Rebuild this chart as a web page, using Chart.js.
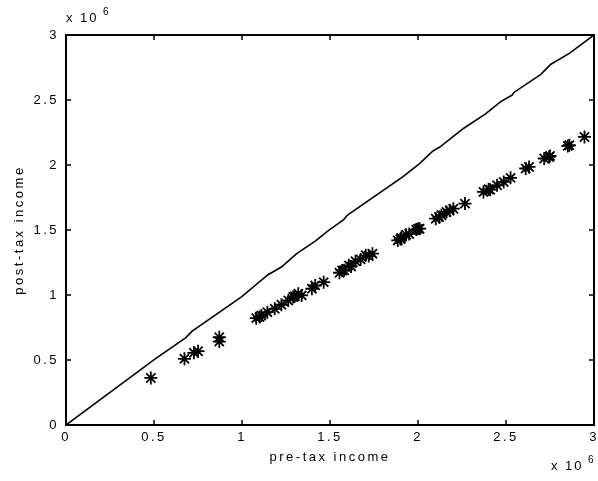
<!DOCTYPE html>
<html>
<head>
<meta charset="utf-8">
<script src="https://cdn.jsdelivr.net/npm/chart.js@4.4.0/dist/chart.umd.min.js"></script>
<style>
html,body{margin:0;padding:0;background:#fff;}
#wrap{width:598px;height:481px;position:relative;}
</style>
</head>
<body>
<div id="wrap"><canvas id="c" width="598" height="481"></canvas></div>
<script>
// Reference line (pre-tax vs pre-tax), values in units of 1e6
const lineX = [0, 0.501, 0.679, 0.717, 0.995, 1.148, 1.224, 1.311, 1.416, 1.492, 1.578, 1.598, 1.626, 1.913, 2.009, 2.085, 2.124, 2.258, 2.382, 2.468, 2.535, 2.545, 2.698, 2.755, 2.860, 3.0];
const lineY = [0, 0.503, 0.670, 0.722, 0.984, 1.156, 1.215, 1.318, 1.415, 1.497, 1.580, 1.613, 1.640, 1.908, 2.011, 2.108, 2.138, 2.281, 2.391, 2.486, 2.538, 2.558, 2.697, 2.775, 2.859, 3.0];
// Observations: pre-tax income vs post-tax income, units of 1e6
const preTax = [0.482, 0.673, 0.727, 0.750, 0.871, 0.871, 1.081, 1.100, 1.110, 1.144, 1.186, 1.224, 1.263, 1.291, 1.300, 1.320, 1.339, 1.397, 1.416, 1.464, 1.554, 1.569, 1.580, 1.607, 1.620, 1.645, 1.674, 1.703, 1.720, 1.741, 1.885, 1.900, 1.904, 1.932, 1.950, 1.990, 2.000, 2.009, 2.101, 2.120, 2.133, 2.162, 2.180, 2.201, 2.267, 2.372, 2.401, 2.410, 2.449, 2.487, 2.526, 2.612, 2.631, 2.717, 2.745, 2.750, 2.851, 2.860, 2.946];
const postTax = [0.362, 0.509, 0.555, 0.568, 0.675, 0.642, 0.822, 0.830, 0.842, 0.868, 0.894, 0.925, 0.958, 0.984, 0.990, 1.009, 0.997, 1.048, 1.074, 1.099, 1.171, 1.189, 1.190, 1.228, 1.220, 1.259, 1.274, 1.305, 1.300, 1.318, 1.420, 1.430, 1.438, 1.464, 1.470, 1.503, 1.510, 1.510, 1.587, 1.600, 1.613, 1.639, 1.650, 1.664, 1.703, 1.793, 1.813, 1.810, 1.844, 1.870, 1.901, 1.973, 1.985, 2.050, 2.062, 2.070, 2.147, 2.152, 2.216];
const xTicks = [0, 0.5, 1, 1.5, 2, 2.5, 3];
const yTicks = [0, 0.5, 1, 1.5, 2, 2.5, 3];
const SCALE = 1e6;

const FONT = "'Liberation Sans', Arial, sans-serif";

const boxPlugin = {
  id: 'box',
  beforeInit(chart){ chart.ctx.letterSpacing = '2.5px'; },
  beforeLayout(chart){ chart.ctx.letterSpacing = '2.5px'; },
  beforeDraw(chart){ chart.ctx.letterSpacing = '2.5px'; },
  afterDraw(chart){
    const ctx = chart.ctx;
    const {left, right, top, bottom} = chart.chartArea;
    const xs = chart.scales.x, ys = chart.scales.y;
    ctx.save();
    ctx.strokeStyle = '#000';
    ctx.lineWidth = 2;
    ctx.strokeRect(left, top, right - left, bottom - top);
    ctx.lineWidth = 1.5;
    ctx.beginPath();
    xs.ticks.forEach(t => {
      const p = xs.getPixelForValue(t.value);
      ctx.moveTo(p, bottom); ctx.lineTo(p, bottom - 5);
      ctx.moveTo(p, top); ctx.lineTo(p, top + 5);
    });
    ys.ticks.forEach(t => {
      const p = ys.getPixelForValue(t.value);
      ctx.moveTo(left, p); ctx.lineTo(left + 5, p);
      ctx.moveTo(right, p); ctx.lineTo(right - 5, p);
    });
    ctx.stroke();
    // exponent labels
    ctx.fillStyle = '#000';
    ctx.letterSpacing = '2px';
    ctx.textBaseline = 'alphabetic';
    ctx.textAlign = 'left';
    ctx.font = "13px " + FONT;
    ctx.fillText('x 10', left, 22);
    ctx.font = "10px " + FONT;
    ctx.fillText('6', left + 37, 15);
    ctx.font = "13px " + FONT;
    ctx.fillText('x 10', 551, 470);
    ctx.font = "10px " + FONT;
    ctx.fillText('6', 588, 463);
    ctx.restore();
  }
};

new Chart(document.getElementById('c'), {
  type: 'scatter',
  data: {
    datasets: [
      {
        data: lineX.map((x, i) => ({x: x * SCALE, y: lineY[i] * SCALE})),
        showLine: true,
        borderColor: '#000',
        borderWidth: 1.6,
        pointRadius: 0,
        fill: false,
        tension: 0
      },
      {
        data: preTax.map((x, i) => ({x: x * SCALE, y: postTax[i] * SCALE})),
        showLine: false,
        pointStyle: 'star',
        pointRadius: 6.5,
        borderColor: '#000',
        backgroundColor: '#000',
        pointBorderWidth: 1.8
      }
    ]
  },
  plugins: [boxPlugin],
  options: {
    responsive: false,
    animation: false,
    events: [],
    layout: { autoPadding: false, padding: { left: 0, top: 35, right: 4, bottom: 0 } },
    plugins: { legend: { display: false }, tooltip: { enabled: false } },
    scales: {
      x: {
        type: 'linear',
        min: 0, max: 3 * SCALE,
        afterBuildTicks(s){ s.ticks = xTicks.map(v => ({value: v * SCALE})); },
        afterFit(s){ s.height = 56; s.paddingLeft = 0; s.paddingRight = 0; },
        grid: { display: false, drawTicks: false },
        border: { display: false },
        ticks: {
          color: '#000', padding: 5,
          font: { family: FONT, size: 13 },
          maxRotation: 0, autoSkip: false,
          callback: v => String(v / SCALE)
        },
        title: {
          display: true, text: 'pre-tax income', color: '#000',
          font: { family: FONT, size: 13 },
          padding: { top: 0, bottom: 16 }
        }
      },
      y: {
        type: 'linear',
        min: 0, max: 3 * SCALE,
        afterBuildTicks(s){ s.ticks = yTicks.map(v => ({value: v * SCALE})); },
        afterFit(s){ s.width = 66; s.paddingTop = 0; s.paddingBottom = 0; },
        grid: { display: false, drawTicks: false },
        border: { display: false },
        ticks: {
          color: '#000', padding: 7,
          font: { family: FONT, size: 13 },
          autoSkip: false,
          callback: v => String(v / SCALE)
        },
        title: {
          display: true, text: 'post-tax income', color: '#000',
          font: { family: FONT, size: 13 },
          padding: { top: 12, bottom: 0 }
        }
      }
    }
  }
});
</script>
</body>
</html>
